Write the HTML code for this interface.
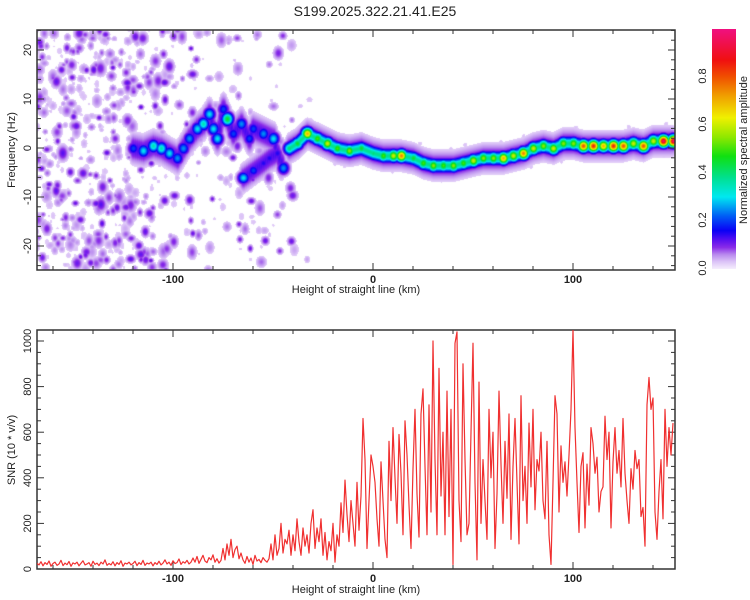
<!DOCTYPE html>
<html><head><meta charset="utf-8">
<style>
html,body{margin:0;padding:0;background:#fff;}
#wrap{position:relative;width:750px;height:600px;overflow:hidden;font-family:"Liberation Sans",sans-serif;}
#heat{position:absolute;left:37px;top:30px;}
#ov{position:absolute;left:0;top:0;}
</style></head><body>
<div id="wrap">
<canvas id="heat" width="638" height="240"></canvas>
<svg id="ov" width="750" height="600" xmlns="http://www.w3.org/2000/svg">
<defs>
<linearGradient id="cbg" x1="0" y1="1" x2="0" y2="0">
<stop offset="0" stop-color="#f6eefd"/><stop offset="0.03" stop-color="#dcc4f7"/>
<stop offset="0.06" stop-color="#b98aee"/><stop offset="0.09" stop-color="#8a2be8"/>
<stop offset="0.12" stop-color="#5a10f0"/><stop offset="0.16" stop-color="#0a00f5"/>
<stop offset="0.22" stop-color="#005cf5"/><stop offset="0.3" stop-color="#00e8f0"/>
<stop offset="0.38" stop-color="#00e090"/><stop offset="0.47" stop-color="#10e010"/>
<stop offset="0.55" stop-color="#90e800"/><stop offset="0.63" stop-color="#f0f000"/>
<stop offset="0.72" stop-color="#f0a000"/><stop offset="0.8" stop-color="#f05000"/>
<stop offset="0.87" stop-color="#f01010"/><stop offset="1" stop-color="#f01080"/>
</linearGradient>
<clipPath id="bclip"><rect x="37" y="330" width="638" height="240"/></clipPath>
</defs>
<text x="375" y="16" text-anchor="middle" font-size="14" fill="#222">S199.2025.322.21.41.E25</text>
<g id="topAxes"></g>
<g id="botAxes"></g>
<path id="snrLine" clip-path="url(#bclip)" fill="none" stroke="#f03030" stroke-width="1.2" stroke-linejoin="round"/>
<rect x="712" y="29" width="24" height="240" fill="url(#cbg)"/>
<g id="cbAxis"></g>
<text transform="translate(747,150) rotate(-90)" text-anchor="middle" font-size="11" fill="#222">Normalized spectral amplitude</text>
<text x="356" y="293" text-anchor="middle" font-size="11" fill="#222">Height of straight line (km)</text>
<text x="356" y="593" text-anchor="middle" font-size="11" fill="#222">Height of straight line (km)</text>
<text transform="translate(15,150) rotate(-90)" text-anchor="middle" font-size="11" fill="#222">Frequency (Hz)</text>
<text transform="translate(15,450) rotate(-90)" text-anchor="middle" font-size="11" fill="#222">SNR (10 * v/v)</text>
</svg>
</div>
<script>
// ---- data ----
const xTickLabels = [-100, 0, 100];
const freqTickLabels = [-20, -10, 0, 10, 20];
const snrTickLabels = [0, 200, 400, 600, 800, 1000];
const cbTickLabels = [0.0, 0.2, 0.4, 0.6, 0.8];
// main ridge: height (km), frequency (Hz), amplitude
const ridgeKm   = [-42,-38,-33,-28,-23,-18,-12,-6,0,5,10,14,20,25,30,35,40,45,50,55,60,65,70,75,80,85,90,95,100,105,110,115,120,125,130,135,140,145,150];
const ridgeFreq = [0,1,3,2,1,0,-0.5,0,-1,-1.5,-1.5,-1.5,-2,-3,-3.5,-3.5,-3.5,-3,-2.5,-2,-2,-2,-1.5,-1,0,0.5,0,1,1,0.5,0.5,0.5,0.5,0.5,1,0.5,1.5,1.5,1.5];
const ridgeAmp  = [0.4,0.45,0.7,0.5,0.6,0.5,0.55,0.45,0.4,0.5,0.6,0.75,0.45,0.5,0.55,0.5,0.55,0.5,0.6,0.55,0.55,0.7,0.6,0.75,0.6,0.55,0.6,0.55,0.55,0.8,0.85,0.7,0.85,0.8,0.6,0.8,0.6,0.95,0.95];
// early arc path and blobs
const arcKm   = [-120,-115,-110,-106,-102,-98,-95,-92,-88,-85,-82,-80,-78,-75,-73,-70,-66,-62,-60,-55,-50,-48,-45];
const arcFreq = [0,-0.5,0.5,0,-1,-2,0,2,4,5,7,4,2,8,6,3,5,2,4,3,2,-1,-4];
const arcAmp  = [0.2,0.3,0.35,0.35,0.3,0.25,0.25,0.25,0.3,0.35,0.3,0.3,0.3,0.2,0.45,0.2,0.25,0.2,0.2,0.25,0.3,0.15,0.25];
const branchKm   = [-65,-60,-55,-52,-48];
const branchFreq = [-6,-4.5,-3,-2,-1];
const branchAmp  = [0.3,0.2,0.15,0.15,0.15];
// noise density per 10 km bin starting at -170 km
const noiseDensity = [1,1,1,1,1,0.7,0.45,0.35,0.3,0.3,0.3,0.25,0.2,0.05,0,0,0,0,0,0,0,0,0,0,0,0,0,0,0,0,0,0];
// SNR series: one value per km from -168 to 150
const snrStartKm = -168;
const snrValues = [
25,18,32,14,28,20,35,12,24,30,16,22,38,15,26,19,33,12,27,22,
30,14,25,36,18,22,28,12,34,20,26,15,30,22,40,16,24,18,32,14,
28,20,36,12,26,22,30,18,24,34,15,28,20,38,16,26,22,30,14,28,
20,34,18,26,40,22,30,16,36,24,28,44,20,32,26,38,22,30,
48,30,55,25,42,60,35,28,50,40,62,30,45,26,38,
90,40,110,60,130,50,85,100,45,70,
40,25,55,30,48,20,60,35,42,28,50,38,30,45,
110,40,150,60,90,200,70,130,110,170,60,150,80,220,120,60,180,100,150,70,200,
260,90,180,120,220,60,160,40,120,80,200,30,150,100,290,160,390,240,120,300,
200,100,380,170,320,660,480,90,300,500,
450,380,220,100,470,300,130,50,560,300,
620,400,200,590,420,150,650,500,280,90,
440,700,330,140,680,790,450,150,720,250,
1000,480,150,880,320,600,150,780,230,700,
20,990,1040,300,120,900,480,150,200,600,
990,380,40,820,200,480,300,130,700,400,
600,90,330,780,460,200,560,310,680,130,
450,660,380,110,760,300,450,200,640,360,
700,260,480,430,600,300,220,560,150,20,
380,760,680,250,540,380,470,320,500,700,
1050,620,380,160,450,510,180,460,280,620,
550,420,490,250,340,360,670,480,600,180,
470,620,420,520,360,660,420,300,200,440,
350,520,440,480,230,270,100,720,840,700,
750,250,130,340,480,220,700,450,620,500,
640];

// ---- scales ----
const X0=37,X1=675;
const kmMin=-168, kmMax=151;
function xs(km){return X0+(km-kmMin)/(kmMax-kmMin)*(X1-X0);}
const TY0=30,TY1=270;
function fy(f){return 148-f*4.9;}
const BY0=330,BY1=569;
function sy(v){return BY1-v*0.228;}
function cy(v){return 268-v*240;}
const NS="http://www.w3.org/2000/svg";
function mk(tag,attrs,parent){const e=document.createElementNS(NS,tag);for(const k in attrs)e.setAttribute(k,attrs[k]);parent.appendChild(e);return e;}

// ---- heatmap ----
const W=638,H=240;
const field=new Float32Array(W*H);
function splat(px,py,amp,sx,sy_){
  const rx=Math.ceil(sx*3),ry=Math.ceil(sy_*3);
  for(let y=Math.max(0,Math.floor(py-ry));y<Math.min(H,py+ry);y++){
    const dy=(y-py)/sy_;
    for(let x=Math.max(0,Math.floor(px-rx));x<Math.min(W,px+rx);x++){
      const dx=(x-px)/sx;
      const v=amp*Math.exp(-0.5*(dx*dx+dy*dy));
      const i=y*W+x; if(v>field[i])field[i]=v;
    }
  }
}
// deterministic texture generator for background speckle
let seed=12345;function rnd(){seed=(seed*1103515245+12345)%2147483648;return seed/2147483648;}
noiseDensity.forEach((d,b)=>{
  const n=Math.round(d*85);
  for(let k=0;k<n;k++){
    const km=-170+b*10+rnd()*10;
    const f=-25+rnd()*50;
    const r=rnd();
    const a=0.024+0.1*r*r;
    const s=1.8+rnd()*2;
    splat(xs(km)-X0,fy(f)-TY0,a,s,s*(0.8+rnd()*0.7));
  }
});
function pathSplat(kmA,fA,aA,step,core,sxC,syC){
  for(let i=0;i<kmA.length-1;i++){
    const steps=Math.max(1,Math.round((kmA[i+1]-kmA[i])*step));
    for(let s=0;s<steps;s++){
      const t=s/steps;
      const km=kmA[i]+t*(kmA[i+1]-kmA[i]);
      const f=fA[i]+t*(fA[i+1]-fA[i]);
      const px=xs(km)-X0,py=fy(f)-TY0;
      splat(px,py,core,3,syC);
      splat(px,py,0.13,3,syC*1.9);
      splat(px,py,0.045,3,syC*2.8);
      if(rnd()<0.25)splat(px+(rnd()-0.5)*6,py+(rnd()-0.5)*36,0.03,2.5,3);
    }
    splat(xs(kmA[i])-X0,fy(fA[i])-TY0,aA[i],sxC,syC*0.9);
  }
  const L=kmA.length-1;splat(xs(kmA[L])-X0,fy(fA[L])-TY0,aA[L],sxC,syC*0.9);
}
pathSplat(arcKm,arcFreq,arcAmp,1,0.12,4,5);
pathSplat(branchKm,branchFreq,branchAmp,1,0.12,4,4.5);
pathSplat(ridgeKm,ridgeFreq,ridgeAmp,2,0.38,4,4.6);
const stops=[[0,[246,238,253]],[0.03,[220,196,247]],[0.06,[185,138,238]],[0.09,[138,43,232]],[0.12,[90,16,240]],[0.16,[10,0,245]],[0.22,[0,92,245]],[0.3,[0,232,240]],[0.38,[0,224,144]],[0.47,[16,224,16]],[0.55,[144,232,0]],[0.63,[240,240,0]],[0.72,[240,160,0]],[0.8,[240,80,0]],[0.87,[240,16,16]],[0.97,[240,16,128]]];
function cmap(v){
  if(v>=0.97)return stops[stops.length-1][1];
  for(let i=0;i<stops.length-1;i++){
    if(v<=stops[i+1][0]){const t=(v-stops[i][0])/(stops[i+1][0]-stops[i][0]);const a=stops[i][1],b=stops[i+1][1];return [a[0]+t*(b[0]-a[0]),a[1]+t*(b[1]-a[1]),a[2]+t*(b[2]-a[2])];}
  }
}
const ctx=document.getElementById('heat').getContext('2d');
const img=ctx.createImageData(W,H);
for(let i=0;i<W*H;i++){
  const v=field[i];let c=[255,255,255];
  if(v>0.022)c=cmap(v);
  img.data[i*4]=c[0];img.data[i*4+1]=c[1];img.data[i*4+2]=c[2];img.data[i*4+3]=255;
}
ctx.putImageData(img,0,0);

// ---- axes ----
function frame(g,y0,y1,name){
  const r=mk('rect',{x:X0,y:y0,width:X1-X0,height:y1-y0,fill:'none',stroke:'#333','stroke-width':1.5},g);
  
  
  for(let km=-160;km<=150;km+=20){
    const x=xs(km);const major=(km%100===0);const L=major?7:4;
    mk('line',{x1:x,y1:y0,x2:x,y2:y0+L,stroke:'#333'},g);
    mk('line',{x1:x,y1:y1,x2:x,y2:y1-L,stroke:'#333'},g);
  }
  xTickLabels.forEach(v=>{
    const t=mk('text',{x:xs(v),y:y1+13,'text-anchor':'middle','font-size':11,'font-weight':'bold',fill:'#222'},g);
    t.textContent=v;
    
    
  });
}
const tg=document.getElementById('topAxes');
frame(tg,TY0,TY1,'top-plot-frame');
for(let f=-24;f<=24;f+=2){const y=fy(f);const L=(f%10===0)?7:4;
  mk('line',{x1:X0,y1:y,x2:X0+L,y2:y,stroke:'#333'},tg);
  mk('line',{x1:X1,y1:y,x2:X1-L,y2:y,stroke:'#333'},tg);}
freqTickLabels.forEach(v=>{
  const t=mk('text',{transform:`translate(31,${fy(v)}) rotate(-90)`,'text-anchor':'middle','font-size':11,fill:'#222'},tg);
  t.textContent=v;
  
  
});
const bg=document.getElementById('botAxes');
frame(bg,BY0,BY1,'bottom-plot-frame');
for(let v=0;v<=1040;v+=50){const y=sy(v);const L=(v%200===0)?7:4;
  mk('line',{x1:X0,y1:y,x2:X0+L,y2:y,stroke:'#333'},bg);
  mk('line',{x1:X1,y1:y,x2:X1-L,y2:y,stroke:'#333'},bg);}
snrTickLabels.forEach(v=>{
  const t=mk('text',{transform:`translate(31,${sy(v)}) rotate(-90)`,'text-anchor':'middle','font-size':11,fill:'#222'},bg);
  t.textContent=v;
  
  
});
const cg=document.getElementById('cbAxis');
cbTickLabels.forEach(v=>{
  const t=mk('text',{transform:`translate(706,${cy(v)}) rotate(-90)`,'text-anchor':'middle','font-size':11,fill:'#222'},cg);
  t.textContent=v.toFixed(1);
  
  
});
// ---- SNR line ----
let d='';
snrValues.forEach((v,i)=>{d+=(i?'L':'M')+xs(snrStartKm+i).toFixed(2)+','+sy(v).toFixed(2);});
document.getElementById('snrLine').setAttribute('d',d);
</script>
</body></html>
